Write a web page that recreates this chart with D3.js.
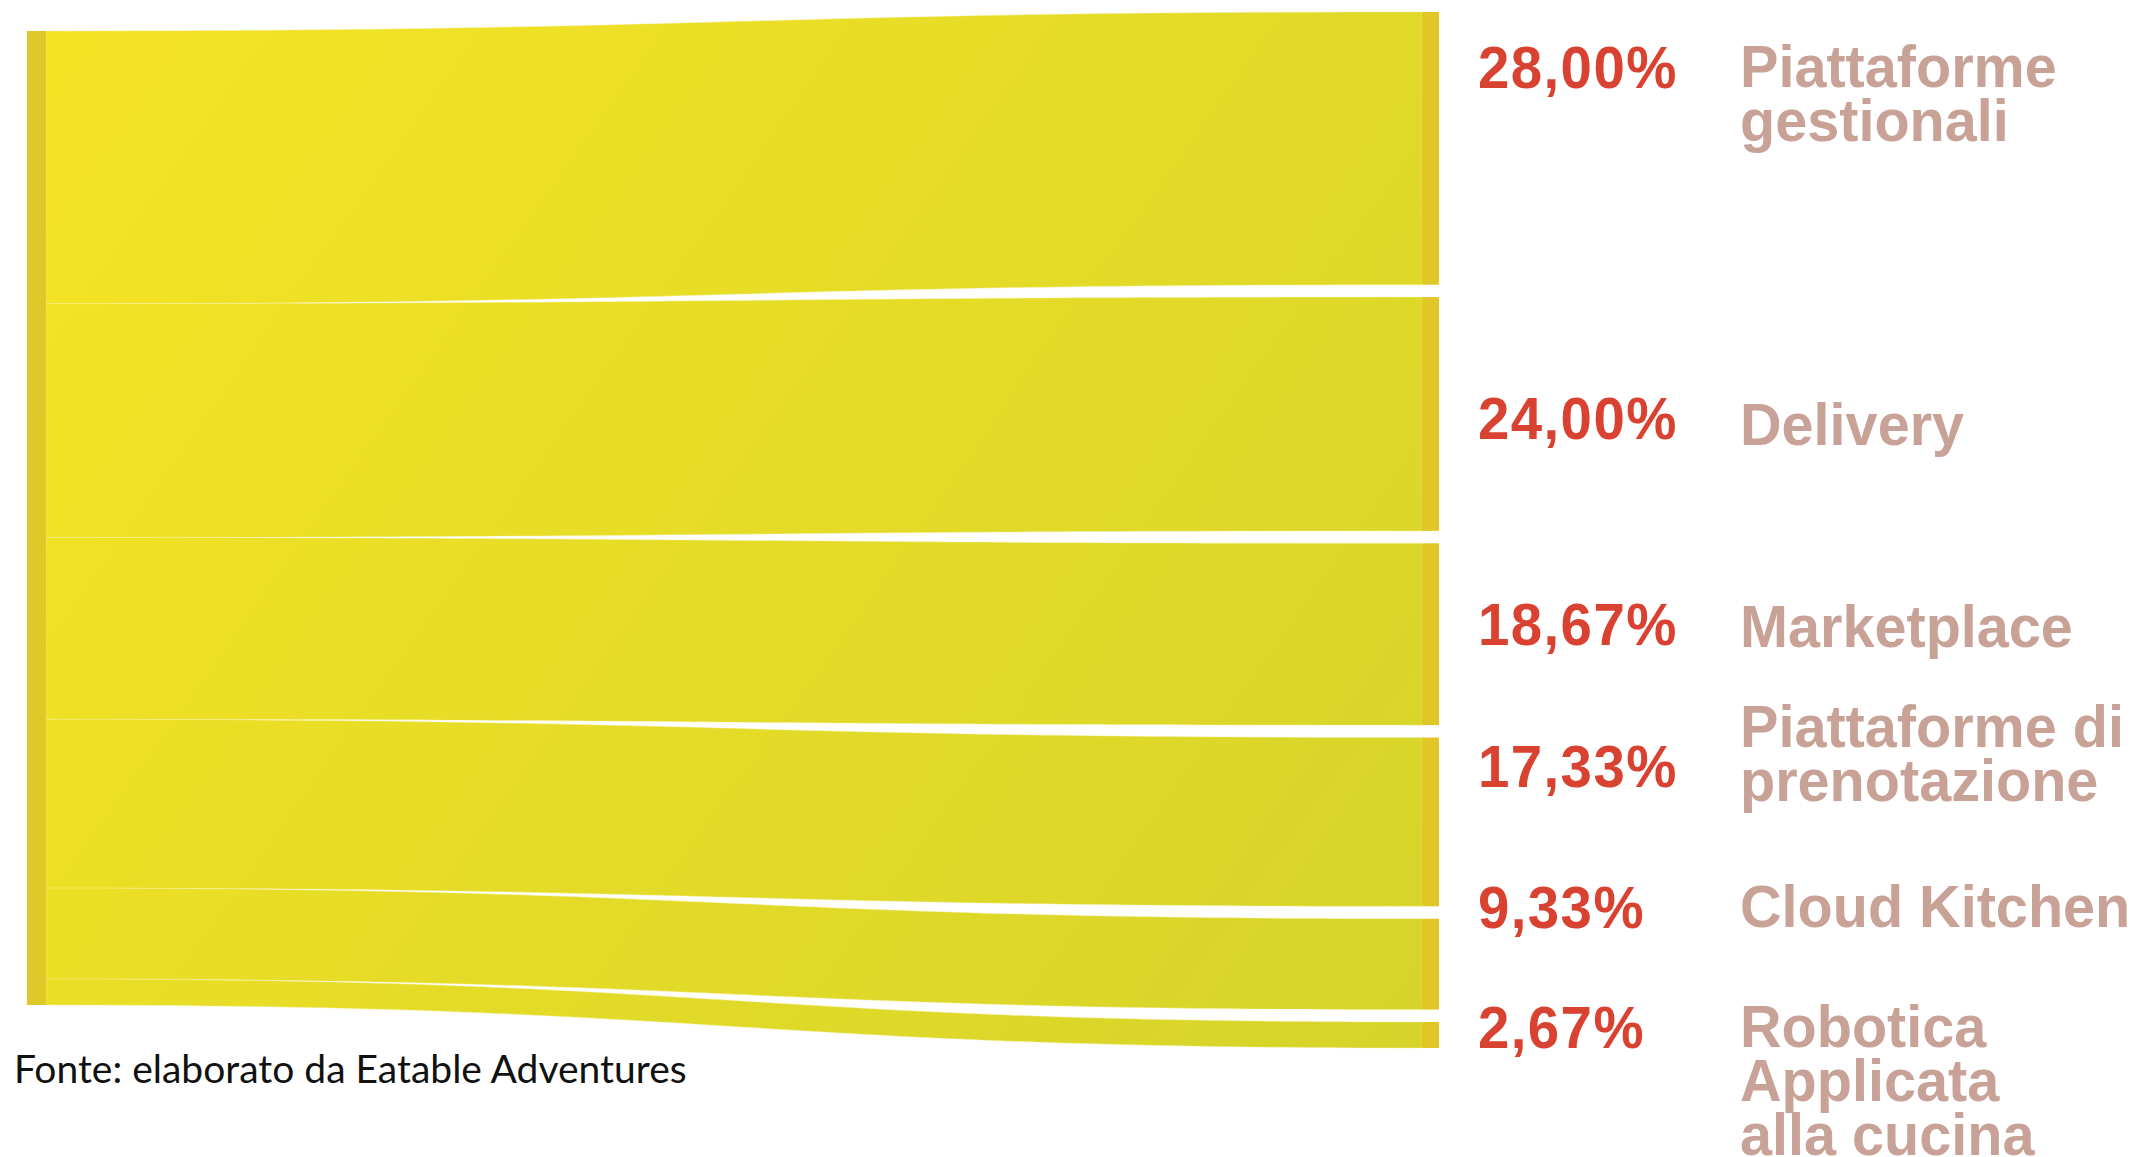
<!DOCTYPE html>
<html>
<head>
<meta charset="utf-8">
<script src="https://cdn.jsdelivr.net/npm/d3@7"></script>
<style>
  html, body { margin: 0; padding: 0; background: #fff; }
</style>
</head>
<body>
<div id="chart"></div>
<script>
// data
var categories = ["Piattaforme gestionali", "Delivery", "Marketplace", "Piattaforme di prenotazione", "Cloud Kitchen", "Robotica Applicata alla cucina"];
var values = [28.00, 24.00, 18.67, 17.33, 9.33, 2.67];
var percentLabels = ["28,00%", "24,00%", "18,67%", "17,33%", "9,33%", "2,67%"];
// label lines as printed
var labelLines = [
  ["Piattaforme", "gestionali"],
  ["Delivery"],
  ["Marketplace"],
  ["Piattaforme di", "prenotazione"],
  ["Cloud Kitchen"],
  ["Robotica", "Applicata", "alla cucina"]
];
var sourceNote = "Fonte: elaborato da Eatable Adventures";

var svgWidth = 2132;
var svgHeight = 1157;

// layout
var leftX0 = 27, leftX1 = 46;
var rightX0 = 1422, rightX1 = 1439;
var leftTop = 31, leftBottom = 1005;
var rightTop = 12;
var gap = 12.4;

var svg = d3.select("#chart")
  .append("svg")
  .attr("width", svgWidth)
  .attr("height", svgHeight);

var defs = svg.append("defs");
var grad = defs.append("linearGradient")
  .attr("id", "flowGrad")
  .attr("gradientUnits", "userSpaceOnUse")
  .attr("x1", leftX1).attr("y1", leftTop)
  .attr("x2", rightX0).attr("y2", leftBottom);
grad.append("stop").attr("offset", "0%").attr("stop-color", "#f5e424");
grad.append("stop").attr("offset", "100%").attr("stop-color", "#d6d42a");

var total = d3.sum(values);
var hScale = d3.scaleLinear()
  .domain([0, total])
  .range([0, leftBottom - leftTop]);

// stack the flows: no gap at the source, gaps at the targets
var flows = [];
var ys = leftTop, yt = rightTop;
values.forEach(function(v, i) {
  var h = hScale(v);
  flows.push({ i: i, s0: ys, s1: ys + h, t0: yt, t1: yt + h });
  ys += h;
  yt += h + gap;
});

var mx = (leftX1 + rightX0) / 2;
function flowPath(f) {
  return "M" + leftX1 + "," + f.s0 +
    "C" + mx + "," + f.s0 + " " + mx + "," + f.t0 + " " + rightX0 + "," + f.t0 +
    "L" + rightX0 + "," + f.t1 +
    "C" + mx + "," + f.t1 + " " + mx + "," + f.s1 + " " + leftX1 + "," + f.s1 + "Z";
}

svg.append("g").selectAll("path")
  .data(flows)
  .enter()
  .append("path")
  .attr("d", flowPath)
  .attr("fill", "url(#flowGrad)")
  .attr("stroke", "#f7f0a0")
  .attr("stroke-width", 0.4);

// source node
svg.append("rect")
  .attr("x", leftX0)
  .attr("y", leftTop)
  .attr("width", leftX1 - leftX0)
  .attr("height", leftBottom - leftTop)
  .attr("fill", "#dfc82a");

// target nodes
svg.append("g").selectAll("rect")
  .data(flows)
  .enter()
  .append("rect")
  .attr("x", rightX0)
  .attr("y", function(d) { return d.t0; })
  .attr("width", rightX1 - rightX0)
  .attr("height", function(d) { return d.t1 - d.t0; })
  .attr("fill", "#e0c727");

// label baselines (first line of each block)
var pctBaseline = [88, 439, 645, 787, 928, 1048];
var labelBaseline = [87, 445, 647, 747, 927, 1047];
var lineHeight = 54;

var fontStack = "'Liberation Sans', Arial, Helvetica, sans-serif";

// percentages, slightly condensed
var pctG = svg.append("g")
  .attr("transform", "translate(1478,0) scale(0.94,1)");

pctG.selectAll("text")
  .data(percentLabels)
  .enter()
  .append("text")
  .attr("x", 0)
  .attr("y", function(d, i) { return pctBaseline[i]; })
  .attr("font-family", fontStack)
  .attr("font-weight", "bold")
  .attr("font-size", 60)
  .attr("letter-spacing", 1.5)
  .attr("fill", "#d94131")
  .text(function(d) { return d; });

var catG = svg.append("g")
  .attr("transform", "translate(1740,0) scale(0.96,1)");

var labelG = catG.selectAll("text")
  .data(labelLines)
  .enter()
  .append("text")
  .attr("x", 0)
  .attr("y", function(d, i) { return labelBaseline[i]; })
  .attr("font-family", fontStack)
  .attr("font-weight", "bold")
  .attr("font-size", 60)
  .attr("fill", "#c8a296");

labelG.selectAll("tspan")
  .data(function(d) { return d; })
  .enter()
  .append("tspan")
  .attr("x", 0)
  .attr("dy", function(d, j) { return j === 0 ? 0 : lineHeight; })
  .text(function(d) { return d; });

// source note
svg.append("text")
  .attr("x", 14)
  .attr("y", 1083)
  .attr("font-family", "Lato, 'Noto Sans', sans-serif")
  .attr("font-size", 39)
  .attr("fill", "#111")
  .text(sourceNote);
</script>
</body>
</html>
